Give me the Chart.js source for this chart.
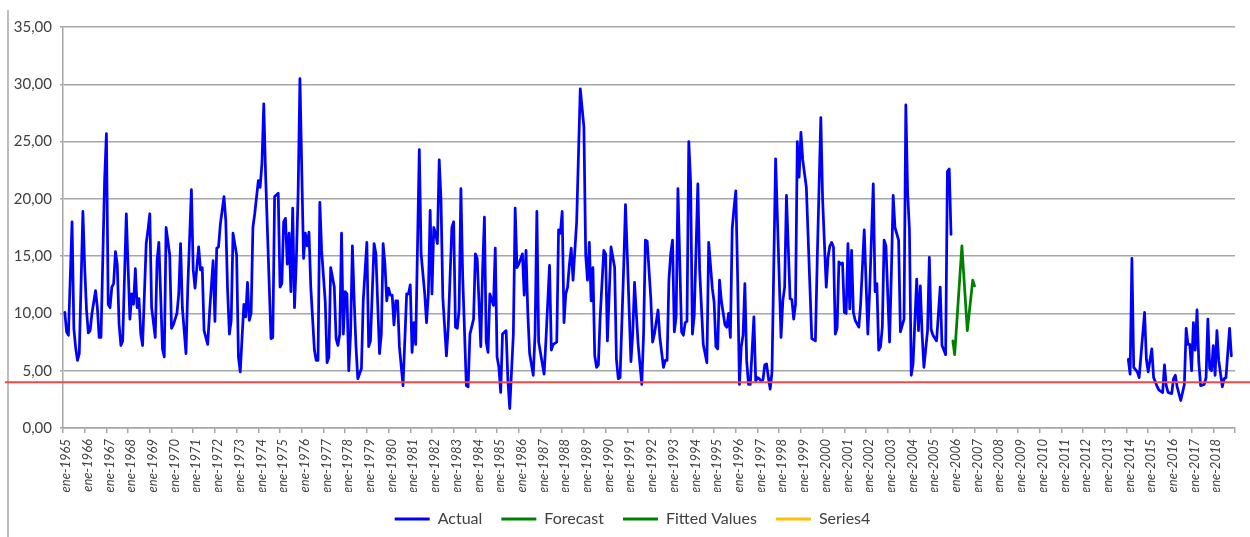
<!DOCTYPE html>
<html lang="es">
<head>
<meta charset="utf-8">
<title>Actual / Forecast</title>
<script src="https://cdn.jsdelivr.net/npm/chart.js@4.4.1/dist/chart.umd.min.js"></script>
<style>
  html, body { margin: 0; padding: 0; background: #fff; }
  #wrap { position: relative; width: 1250px; height: 537px; }
</style>
</head>
<body>
<div id="wrap"><canvas id="graph"></canvas></div>
<script>
// months are counted from ene-1965 (0 = ene-1965)
const firstYear = 1965;
const lastYear = 2018;
const monthsShown = 648;
const threshold = 4;

const actualMonths = [
  1, 2, 3, 5, 6, 7, 8, 9, 11, 12, 13, 14,
  15, 16, 18, 19, 20, 21, 23, 24, 25, 26, 27, 28,
  29, 30, 31, 32, 33, 35, 36, 37, 38, 39, 40, 41,
  42, 43, 44, 46, 47, 48, 49, 51, 52, 53, 55, 56,
  57, 59, 60, 61, 63, 64, 65, 66, 68, 69, 71, 72,
  73, 75, 76, 77, 78, 80, 81, 83, 84, 85, 86, 87,
  89, 90, 91, 92, 93, 94, 96, 97, 98, 100, 101, 102,
  103, 104, 105, 106, 108, 109, 110, 111, 112, 114, 115, 116,
  117, 119, 120, 121, 122, 123, 124, 125, 126, 127, 128, 129,
  130, 131, 133, 134, 135, 136, 137, 139, 140, 141, 142, 143,
  145, 146, 147, 148, 150, 151, 152, 153, 154, 155, 156, 157,
  158, 159, 160, 161, 162, 163, 165, 166, 168, 169, 170, 172,
  173, 175, 176, 177, 178, 179, 180, 181, 182, 183, 184, 185,
  186, 188, 190, 191, 192, 193, 194, 195, 197, 198, 200, 201,
  202, 203, 204, 205, 206, 207, 208, 209, 210, 212, 213, 215,
  216, 217, 218, 219, 220, 221, 223, 224, 225, 227, 228, 229,
  231, 232, 233, 234, 235, 236, 238, 239, 240, 241, 242, 243,
  245, 246, 247, 249, 250, 251, 252, 254, 255, 256, 257, 258,
  260, 261, 262, 263, 266, 267, 269, 270, 271, 273, 274, 275,
  276, 277, 278, 279, 280, 281, 282, 284, 286, 288, 289, 290,
  291, 292, 293, 294, 295, 296, 297, 299, 300, 301, 302, 303,
  305, 306, 307, 308, 310, 311, 312, 314, 315, 316, 318, 320,
  321, 322, 323, 325, 326, 327, 329, 330, 332, 333, 334, 335,
  336, 337, 338, 339, 340, 341, 342, 343, 344, 345, 346, 347,
  348, 349, 351, 352, 354, 355, 356, 357, 359, 360, 361, 362,
  363, 364, 366, 367, 368, 369, 370, 371, 372, 373, 374, 375,
  376, 377, 378, 379, 380, 382, 383, 384, 385, 386, 387, 388,
  389, 390, 391, 392, 394, 397, 398, 399, 400, 402, 403, 404,
  405, 406, 407, 408, 409, 411, 414, 416, 417, 419, 420, 422,
  423, 424, 425, 426, 427, 428, 429, 430, 431, 432, 433, 434,
  435, 436, 437, 438, 440, 441, 443, 445, 446, 448, 449, 450,
  451, 452, 453, 454, 455, 457, 458, 459, 460, 462, 463, 465,
  466, 467, 468, 469, 470, 472, 473, 474, 475, 476, 478, 479,
  480, 481, 483, 485, 486, 487, 488, 489, 490, 491,
  589, 590, 591, 592, 594, 595, 598, 599, 600, 602, 603, 605,
  606, 608, 609, 610, 611, 613, 614, 615, 616, 618, 620, 621,
  622, 623, 624, 625, 626, 627, 628, 629, 631, 632, 633, 634,
  635, 636, 637, 638, 639, 641, 642, 643, 645, 646
];

const actualValues = [
  10.1, 8.4, 8.1, 18.0, 8.7, 7.0, 5.9, 6.5, 18.9, 14.0, 10.3, 8.3,
  8.5, 10.0, 12.0, 10.5, 7.9, 7.9, 21.6, 25.7, 10.8, 10.5, 12.3, 12.6,
  15.4, 14.3, 9.1, 7.2, 7.6, 18.7, 14.0, 9.5, 11.7, 10.8, 13.9, 10.5,
  11.3, 8.2, 7.2, 16.1, 17.3, 18.7, 10.5, 7.9, 14.6, 16.2, 6.9, 6.2,
  17.5, 15.1, 8.7, 9.0, 10.0, 11.7, 16.1, 10.5, 6.5, 12.3, 20.8, 13.8,
  12.2, 15.8, 13.8, 14.0, 8.5, 7.3, 10.0, 14.6, 9.3, 15.7, 15.8, 17.8,
  20.2, 18.1, 12.0, 8.2, 9.4, 17.0, 15.1, 6.2, 4.9, 10.8, 9.7, 12.7,
  9.4, 10.0, 17.5, 18.7, 21.6, 21.0, 23.1, 28.3, 22.2, 12.6, 7.8, 7.9,
  20.2, 20.5, 12.3, 12.6, 18.0, 18.3, 14.3, 17.0, 11.9, 19.2, 10.5, 14.6,
  20.5, 30.5, 14.8, 17.0, 15.9, 17.1, 12.3, 6.8, 5.9, 5.9, 19.7, 15.5,
  11.0, 5.7, 6.2, 14.0, 12.3, 7.8, 7.2, 8.2, 17.0, 8.2, 11.9, 11.7,
  5.0, 8.2, 15.9, 11.1, 7.1, 4.3, 5.2, 11.1, 16.2, 7.1, 7.6, 16.1,
  15.2, 6.5, 8.2, 16.1, 14.3, 11.1, 12.2, 11.6, 11.6, 9.0, 11.1, 11.1,
  7.1, 3.7, 11.7, 11.7, 12.5, 6.6, 9.2, 7.3, 24.3, 15.2, 11.7, 9.2,
  11.7, 19.0, 11.7, 17.5, 17.0, 16.1, 23.4, 19.9, 11.4, 6.3, 8.8, 17.5,
  18.0, 8.8, 8.7, 10.3, 20.9, 13.2, 3.7, 3.6, 8.2, 9.5, 15.2, 14.8,
  7.1, 13.8, 18.4, 7.5, 6.6, 11.7, 10.7, 15.7, 6.2, 5.3, 3.1, 8.2,
  8.5, 4.1, 1.7, 8.2, 19.2, 14.0, 14.3, 15.2, 11.6, 15.5, 10.0, 6.5,
  4.6, 8.2, 18.9, 7.5, 4.7, 7.6, 14.2, 6.8, 7.3, 7.5, 17.3, 17.0,
  18.9, 9.2, 11.7, 12.3, 14.3, 15.7, 12.9, 18.0, 29.6, 26.3, 15.1, 12.9,
  16.2, 11.1, 14.0, 6.3, 5.3, 5.5, 9.7, 15.5, 15.2, 7.6, 11.7, 15.8,
  14.0, 6.0, 4.3, 4.4, 14.0, 19.5, 15.1, 5.8, 8.2, 12.7, 7.3, 3.8,
  8.2, 16.4, 16.3, 11.3, 7.5, 8.2, 10.3, 7.9, 5.3, 5.9, 5.9, 12.9,
  15.2, 16.4, 8.4, 9.7, 20.9, 14.6, 8.4, 8.1, 9.2, 9.3, 25.0, 21.5,
  8.2, 9.8, 21.3, 13.8, 7.3, 6.5, 5.7, 16.2, 12.2, 11.0, 7.1, 6.9,
  12.9, 11.1, 9.0, 8.8, 10.0, 7.9, 17.4, 19.2, 20.7, 13.2, 3.8, 7.1,
  8.1, 12.6, 5.9, 3.8, 3.8, 9.7, 4.1, 4.4, 4.3, 4.1, 4.2, 5.5,
  5.6, 4.4, 3.4, 4.9, 23.5, 7.9, 11.1, 12.3, 20.3, 11.3, 11.2, 9.5,
  10.8, 25.0, 21.9, 25.8, 23.4, 21.0, 7.8, 7.6, 14.6, 27.1, 19.9, 12.3,
  14.9, 15.9, 16.2, 15.8, 8.2, 8.7, 14.5, 14.3, 14.4, 10.1, 10.0, 16.1,
  10.4, 15.5, 10.1, 9.4, 8.8, 10.8, 17.3, 8.2, 12.0, 21.3, 11.9, 12.6,
  6.8, 7.1, 8.8, 16.4, 15.9, 7.5, 13.5, 20.3, 17.5, 16.4, 8.4, 9.5,
  28.2, 20.5, 17.3, 4.6, 5.6, 13.0, 8.5, 12.4, 8.2, 5.3, 8.5, 14.9,
  8.6, 8.1, 7.6, 12.3, 7.2, 6.8, 6.4, 22.4, 22.6, 16.9,
  6.0, 4.7, 14.8, 5.3, 4.9, 4.4, 10.1, 6.0, 4.9, 6.9, 4.4, 3.6,
  3.3, 3.1, 5.5, 3.7, 3.1, 3.0, 4.3, 4.6, 3.6, 2.4, 3.8, 8.7,
  7.3, 7.3, 5.0, 9.2, 6.8, 10.3, 5.7, 3.7, 3.8, 4.4, 9.5, 5.2,
  5.0, 7.2, 4.6, 8.5, 5.9, 3.6, 4.3, 4.4, 8.7, 6.3
];

const forecastMonths = [492, 493, 497, 500, 503, 504];
const forecastValues = [7.6, 6.4, 15.9, 8.5, 12.9, 12.4];

const tickLabels = [];
for (let y = firstYear; y <= lastYear; y++) tickLabels.push("ene-" + y);

// break the blue line where there are years without data
const actualPoints = [];
actualMonths.forEach((m, i) => {
  if (i > 0 && m - actualMonths[i - 1] > 24) {
    actualPoints.push({ x: m - 1, y: null });
  }
  actualPoints.push({ x: m, y: actualValues[i] });
});
const forecastPoints = forecastMonths.map((m, i) => ({ x: m, y: forecastValues[i] }));

const gridColor = "#a6a6a6";
const textColor = "#404040";

Chart.defaults.font.family = "Lato, 'Liberation Sans', sans-serif";
Chart.defaults.color = textColor;

// frame edge on the left, the red limit line, legend nudged right
const extraLines = {
  id: "extraLines",
  afterLayout(chart) {
    chart.legend.left += 15;
    chart.legend.right += 15;
  },
  beforeDraw(chart) {
    const ctx = chart.ctx;
    ctx.save();
    ctx.strokeStyle = "#bdbdbd";
    ctx.lineWidth = 2;
    ctx.beginPath();
    ctx.moveTo(8, 10);
    ctx.lineTo(8, chart.height);
    ctx.stroke();
    ctx.restore();
  },
  afterDatasetsDraw(chart) {
    const ctx = chart.ctx;
    const y = chart.scales.y.getPixelForValue(threshold);
    ctx.save();
    ctx.strokeStyle = "#f04848";
    ctx.lineWidth = 2;
    ctx.beginPath();
    ctx.moveTo(5, y);
    ctx.lineTo(chart.width, y);
    ctx.stroke();
    ctx.restore();
  },
};

const graph = document.getElementById("graph").getContext("2d");
const myChart = new Chart(graph, {
  type: "line",
  data: {
    datasets: [
      {
        label: "Actual",
        data: actualPoints,
        borderColor: "#0000ff",
        backgroundColor: "#0000ff",
        borderWidth: 2.75,
      },
      {
        label: "Forecast",
        data: forecastPoints,
        borderColor: "#008000",
        backgroundColor: "#008000",
        borderWidth: 2.75,
      },
      {
        label: "Fitted Values",
        data: [],
        borderColor: "#008000",
        backgroundColor: "#008000",
        borderWidth: 2.75,
      },
      {
        label: "Series4",
        data: [],
        borderColor: "#ffc000",
        backgroundColor: "#ffc000",
        borderWidth: 2.75,
      },
    ],
  },
  options: {
    responsive: true,
    maintainAspectRatio: false,
    animation: false,
    spanGaps: false,
    elements: {
      point: { radius: 0, hoverRadius: 0 },
      line: { tension: 0, borderJoinStyle: "round", borderCapStyle: "round" },
    },
    layout: { padding: { top: 27, right: 15, left: 0, bottom: 0 } },
    scales: {
      x: {
        type: "linear",
        min: 0,
        max: monthsShown,
        afterBuildTicks: (scale) => {
          const ticks = [];
          for (let v = 0; v <= monthsShown; v += 12) ticks.push({ value: v });
          scale.ticks = ticks;
        },
        afterFit: (scale) => {
          scale.height = 64;
          scale.paddingLeft = 0;
          scale.paddingRight = 0;
        },
        ticks: {
          autoSkip: false,
          minRotation: 90,
          maxRotation: 90,
          padding: 6,
          labelOffset: 3,
          color: textColor,
          font: { size: 13, style: "italic" },
          callback: (value) => tickLabels[value / 12] || "",
        },
        grid: { drawOnChartArea: false, tickLength: 5, color: gridColor, lineWidth: 1.5 },
        border: { color: gridColor, width: 1.5 },
      },
      y: {
        min: 0,
        max: 35,
        afterFit: (scale) => {
          scale.width = 63;
        },
        ticks: {
          stepSize: 5,
          padding: 8,
          color: textColor,
          font: { size: 15 },
          callback: (value) => value.toFixed(2).replace(".", ","),
        },
        grid: { color: gridColor, lineWidth: 1.5, tickLength: 3 },
        border: { color: gridColor, width: 1.5 },
      },
    },
    plugins: {
      tooltip: { enabled: false },
      legend: {
        position: "bottom",
        labels: {
          boxWidth: 35,
          boxHeight: 3,
          padding: 19,
          color: textColor,
          font: { size: 16 },
          generateLabels: (chart) =>
            Chart.defaults.plugins.legend.labels.generateLabels(chart).map((item) => ({
              ...item,
              fillStyle: item.strokeStyle,
              lineWidth: 0,
            })),
        },
      },
    },
  },
  plugins: [extraLines],
});
</script>
</body>
</html>
